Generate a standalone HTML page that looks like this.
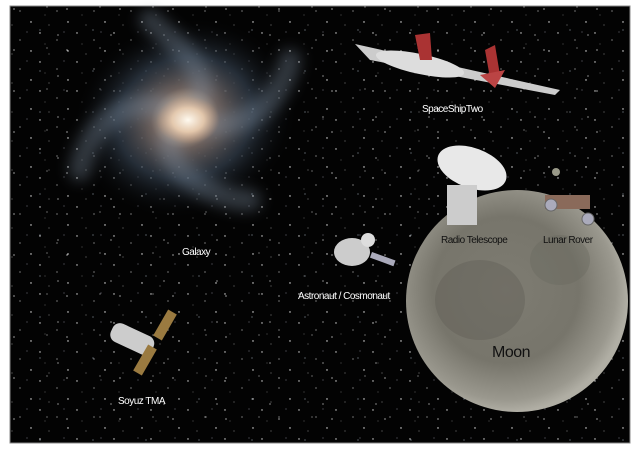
<!DOCTYPE html>
<html><head><meta charset="utf-8"><style>
html,body{margin:0;padding:0;background:#fff;width:640px;height:452px;overflow:hidden}
svg{display:block}
text{font-family:"Liberation Sans",sans-serif;font-size:10px;letter-spacing:-0.5px}
</style></head><body>
<svg width="640" height="452" viewBox="0 0 640 452">
<defs>
<pattern id="st" width="37" height="29" patternUnits="userSpaceOnUse">
<rect width="37" height="29" fill="#030303"/>
<circle cx="3" cy="4" r="0.7" fill="#ddd"/><circle cx="20" cy="11" r="0.6" fill="#bbb"/>
<circle cx="31" cy="22" r="0.7" fill="#eee"/><circle cx="12" cy="25" r="0.5" fill="#aaa"/>
<circle cx="27" cy="3" r="0.5" fill="#99a"/><circle cx="8" cy="15" r="0.4" fill="#ccc"/>
</pattern>
<pattern id="st2" width="53" height="41" patternUnits="userSpaceOnUse">
<circle cx="14" cy="9" r="0.6" fill="#fff"/><circle cx="40" cy="30" r="0.5" fill="#cde"/>
<circle cx="47" cy="7" r="0.5" fill="#fff"/><circle cx="5" cy="35" r="0.6" fill="#ddd"/>
</pattern>
<radialGradient id="gal" cx="0.5" cy="0.5" r="0.5">
<stop offset="0" stop-color="#fff4e0"/><stop offset="0.1" stop-color="#e0c0a0"/>
<stop offset="0.3" stop-color="#6a5e5a"/><stop offset="0.6" stop-color="#34404e" stop-opacity="0.7"/>
<stop offset="1" stop-color="#000" stop-opacity="0"/>
</radialGradient>
<radialGradient id="core" cx="0.5" cy="0.5" r="0.5">
<stop offset="0" stop-color="#fffaf0"/><stop offset="0.5" stop-color="#f0d0b0" stop-opacity="0.8"/>
<stop offset="1" stop-color="#c09070" stop-opacity="0"/>
</radialGradient>
<radialGradient id="moon" cx="0.45" cy="0.45" r="0.55">
<stop offset="0" stop-color="#7e7c72"/><stop offset="0.6" stop-color="#77756b"/>
<stop offset="0.9" stop-color="#9a988e"/><stop offset="1" stop-color="#b0aea4"/>
</radialGradient>
<filter id="bl" x="-30%" y="-30%" width="160%" height="160%"><feGaussianBlur stdDeviation="7"/></filter>
</defs>
<rect x="0" y="0" width="640" height="452" fill="#fff"/>
<rect x="10" y="6" width="620" height="437" fill="url(#st)"/>
<rect x="10" y="6" width="620" height="437" fill="url(#st2)"/>
<rect x="10" y="6" width="620" height="437" fill="none" stroke="#888" stroke-width="1"/>
<!-- galaxy -->
<ellipse cx="185" cy="118" rx="115" ry="100" fill="url(#gal)" transform="rotate(-20 185 118)"/>
<g fill="none" stroke="#8a9ab0" stroke-opacity="0.35" stroke-width="22" stroke-linecap="round" filter="url(#bl)">
<path d="M185 118 C230 80 170 40 150 20"/>
<path d="M185 118 C140 150 200 200 250 200"/>
<path d="M185 118 C150 90 90 110 80 170"/>
<path d="M185 118 C230 140 280 110 290 60"/>
</g>
<ellipse cx="188" cy="120" rx="32" ry="24" fill="url(#core)"/>
<text x="182" y="255" fill="#fff">Galaxy</text>
<!-- spaceship -->
<g>
<polygon points="355,44 560,90 555,95 370,60" fill="#ccc"/>
<ellipse cx="420" cy="64" rx="45" ry="10" fill="#ddd" transform="rotate(12 420 64)"/>
<polygon points="485,50 495,45 500,75 490,78" fill="#a33"/>
<polygon points="415,35 430,33 432,60 420,60" fill="#a33"/>
<polygon points="480,75 505,70 495,88" fill="#b44"/>
</g>
<text x="422" y="112" fill="#fff">SpaceShipTwo</text>
<!-- astronaut -->
<g>
<ellipse cx="352" cy="252" rx="18" ry="14" fill="#ccc"/>
<circle cx="368" cy="240" r="7" fill="#ddd"/>
<rect x="372" y="252" width="25" height="6" fill="#aab" transform="rotate(20 372 252)"/>
</g>
<text x="298" y="299" fill="#fff">Astronaut / Cosmonaut</text>
<!-- moon -->
<circle cx="517" cy="301" r="111" fill="url(#moon)"/>
<ellipse cx="480" cy="300" rx="45" ry="40" fill="#5e5c54" opacity="0.4"/>
<ellipse cx="560" cy="260" rx="30" ry="25" fill="#6a685e" opacity="0.4"/>
<text x="492" y="357" fill="#111" style="font-size:16px">Moon</text>
<!-- radio telescope -->
<g>
<ellipse cx="472" cy="168" rx="36" ry="20" fill="#e8e8e8" transform="rotate(20 472 168)"/>
<rect x="447" y="185" width="30" height="40" fill="#ccc"/>
</g>
<text x="441" y="243" fill="#111">Radio Telescope</text>
<!-- lunar rover -->
<g>
<rect x="545" y="195" width="45" height="14" fill="#8a6a5a"/>
<circle cx="551" cy="205" r="6" fill="#aab" stroke="#666"/>
<circle cx="588" cy="219" r="6" fill="#aab" stroke="#666"/>
<circle cx="556" cy="172" r="4" fill="#998"/>
</g>
<text x="543" y="243" fill="#111">Lunar Rover</text>
<!-- soyuz -->
<g>
<rect x="110" y="328" width="45" height="20" rx="8" fill="#ccc" transform="rotate(25 130 338)"/>
<rect x="150" y="320" width="30" height="10" fill="#9a7a40" transform="rotate(-60 165 325)"/>
<rect x="130" y="355" width="30" height="10" fill="#9a7a40" transform="rotate(-60 145 360)"/>
</g>
<text x="118" y="404" fill="#fff">Soyuz TMA</text>
</svg>
</body></html>
